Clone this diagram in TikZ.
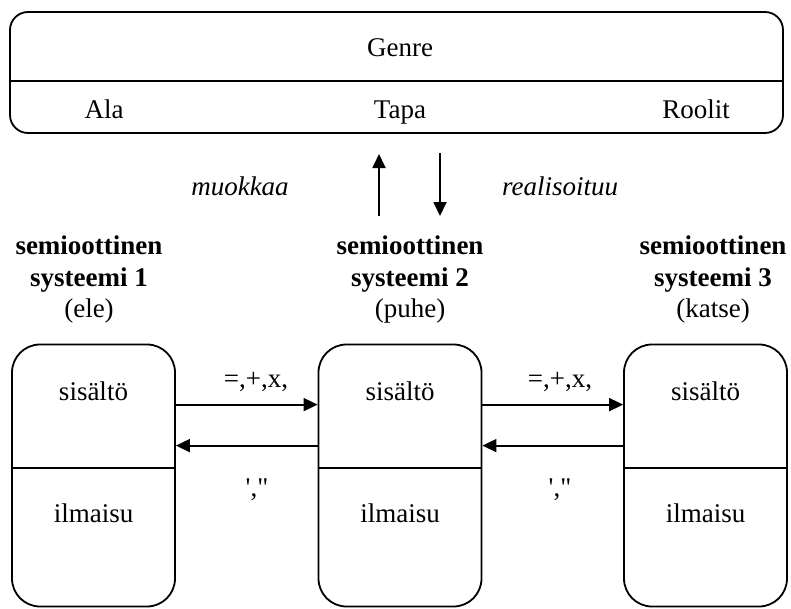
\documentclass[tikz,border=0pt]{standalone}
\usepackage{fontspec}
\setmainfont{Liberation Serif}
% family without TeX ligatures, so ' and " stay straight
\newfontfamily\plainquotes{Liberation Serif}
\usetikzlibrary{arrows.meta}
\begin{document}
\begin{tikzpicture}[x=1pt,y=-1pt,line width=1.8pt,
  txt/.style={font=\fontsize{27}{32}\selectfont,inner sep=0pt,anchor=base},
  sysbox/.style={draw,rounded corners=28pt,minimum width=163pt,minimum height=262pt,inner sep=0pt},
  arr/.style={-{Triangle[length=14pt,width=13pt]}}]
\useasboundingbox (0,0) rectangle (791,608);

% genre box
\node[draw,rounded corners=18pt,minimum width=773pt,minimum height=121pt,inner sep=0pt] (genre) at (396.5,72.5) {};
\coordinate (gdiv) at (0,81);
\draw (genre.west |- gdiv) -- (genre.east |- gdiv);
\node[txt] (tgenre) at (400,56) {Genre};
\node[txt] (tala) at (104,118) {Ala};
\node[txt] (ttapa) at (400,118) {Tapa};
\node[txt] (troolit) at (696,118) {Roolit};

% arrows between genre and the systems
\coordinate (up0) at (379,216);
\coordinate (up1) at (379,154);
\coordinate (dn0) at (440,153);
\coordinate (dn1) at (440,216);
\draw[arr] (up0) -- (up1);
\draw[arr] (dn0) -- (dn1);
\node[txt,font=\fontsize{27}{32}\selectfont\itshape] (tmuok) at (240,195) {muokkaa};
\node[txt,font=\fontsize{27}{32}\selectfont\itshape] (treal) at (560,195) {realisoituu};

% system headings
\node[txt] (h1a) at (89,254) {\bfseries semioottinen};
\node[txt] (h1b) at (89,286) {\bfseries systeemi 1};
\node[txt] (h1c) at (89,317) {(ele)};
\node[txt] (h2a) at (410,254) {\bfseries semioottinen};
\node[txt] (h2b) at (410,286) {\bfseries systeemi 2};
\node[txt] (h2c) at (410,317) {(puhe)};
\node[txt] (h3a) at (713,254) {\bfseries semioottinen};
\node[txt] (h3b) at (713,286) {\bfseries systeemi 3};
\node[txt] (h3c) at (713,317) {(katse)};

% system boxes
\coordinate (sdiv) at (0,468);
\foreach \n/\x in {b1/93.5,b2/400,b3/705.5}{
  \node[sysbox] (\n) at (\x,475.5) {};
  \draw (\n.west |- sdiv) -- (\n.east |- sdiv);
  \node[txt] (\n-sis) at (\x,400) {sisältö};
  \node[txt] (\n-ilm) at (\x,522) {ilmaisu};
}

% relations between systems
\draw[arr] ([yshift=-61pt]b1.north east) -- ([yshift=-61pt]b2.north west);
\draw[arr] ([yshift=-102pt]b2.north west) -- ([yshift=-102pt]b1.north east);
\draw[arr] ([yshift=-61pt]b2.north east) -- ([yshift=-61pt]b3.north west);
\draw[arr] ([yshift=-102pt]b3.north west) -- ([yshift=-102pt]b2.north east);
\node[txt] (r1) at (256,387) {=,+,x,};
\node[txt] (r2) at (560,387) {=,+,x,};
\node[txt,font=\fontsize{27}{32}\selectfont\plainquotes] (q1) at (257,496) {',"};
\node[txt,font=\fontsize{27}{32}\selectfont\plainquotes] (q2) at (560,496) {',"};
\end{tikzpicture}
\end{document}
